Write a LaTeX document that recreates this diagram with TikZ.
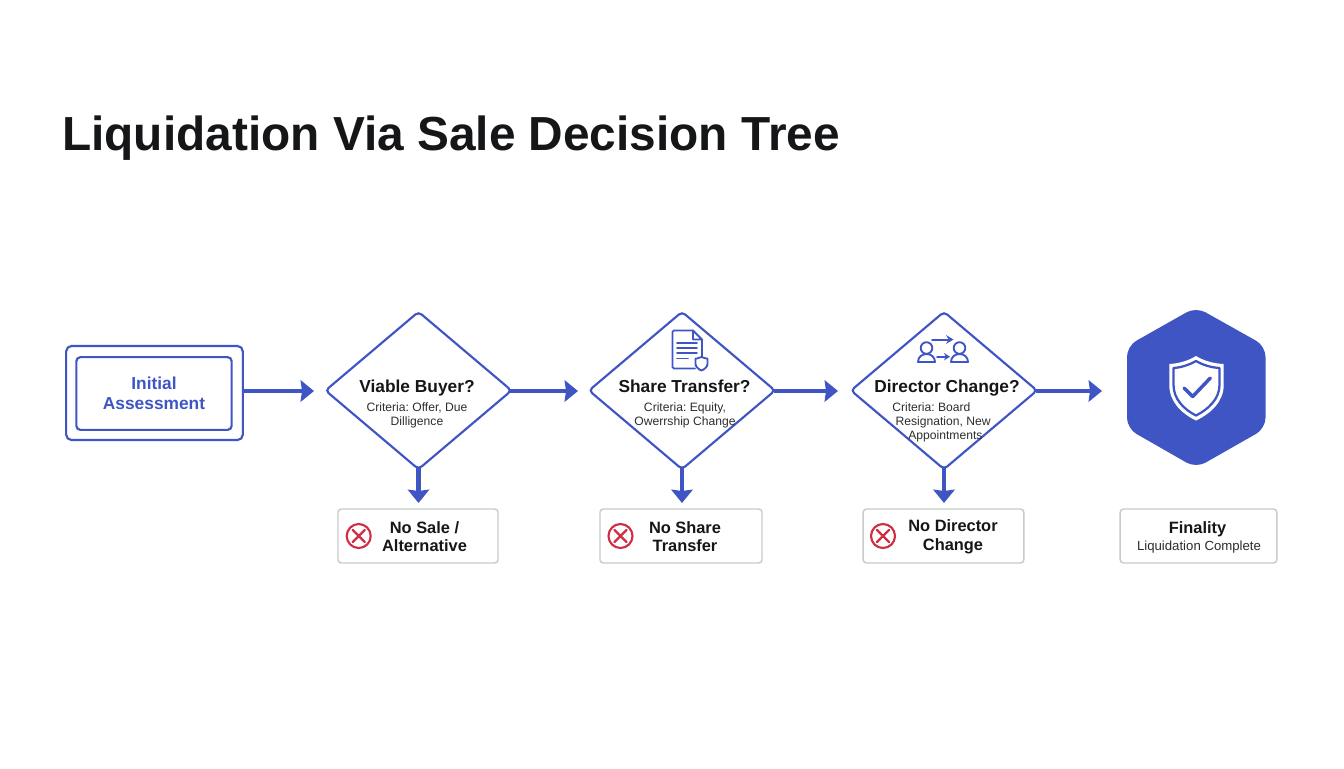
\documentclass[tikz,border=0pt]{standalone}
\usepackage{fontspec}
\setmainfont{Liberation Sans}
\usetikzlibrary{arrows.meta,shapes.geometric,calc}
\definecolor{brand}{HTML}{3F55C4}
\definecolor{ink}{HTML}{141618}
\definecolor{greyb}{HTML}{C9CBCC}
\definecolor{redx}{HTML}{CF2E45}
\newcommand{\fs}[1]{\fontsize{#1}{#1}\selectfont\frenchspacing}
\tikzset{
  x=0.75pt,y=-0.75pt,
  flow/.style={draw=brand,line width=3.4pt,-{Stealth[length=10pt,width=16pt,inset=1pt]},shorten <=-0.8pt},
  dia/.style={diamond,draw=brand,line width=1.6pt,fill=white,inner sep=0pt,outer sep=0pt,aspect=1.18,minimum width=139.5pt,minimum height=118pt,rounded corners=3pt},
  qtxt/.style={font=\fs{13}\bfseries,text=ink,inner sep=0pt,anchor=base},
  crit/.style={font=\fs{9.1},text=ink!90,align=center,inner sep=0pt},
  endbox/.style={draw=greyb,line width=1.1pt,fill=white,rounded corners=2.5pt,inner sep=0pt},
  endtxt/.style={font=\fs{12.3}\bfseries,text=ink,align=center,inner sep=0pt},
  xmark/.style={draw=redx,line width=1.6pt,circle,minimum size=18pt,inner sep=0pt,
    path picture={\draw[redx,line width=1.7pt,line cap=round] ($(path picture bounding box.center)+(-6,-6)$) -- ($(path picture bounding box.center)+(6,6)$) ($(path picture bounding box.center)+(6,-6)$) -- ($(path picture bounding box.center)+(-6,6)$);}},
  icon/.style={draw=brand,line width=1.4pt,line join=round,line cap=round},
}
\begin{document}
\begin{tikzpicture}
\useasboundingbox (0,0) rectangle (1344,768);
\fill[white] (0,0) rectangle (1344,768);
% title
\node[anchor=base west,inner sep=0pt,font=\fs{35.85}\bfseries,text=ink] (title) at (62,150) {Liquidation Via Sale Decision Tree};
% start
\node[draw=brand,line width=1.6pt,rounded corners=4pt,minimum width=132.5pt,minimum height=70.5pt,inner sep=0pt,outer sep=0pt] (startouter) at (154.5,393) {};
\node[draw=brand,line width=1.6pt,rounded corners=3pt,minimum width=116.5pt,minimum height=54.5pt,inner sep=0pt,align=center,text=brand,font=\fs{13}\bfseries] (start) at (154,393.5) {Initial\\[1.7pt]Assessment};
% diamonds
\node[dia] (d1) at (418.5,390.5) {};
\node[dia] (d2) at (682,390.5) {};
\node[dia] (d3) at (944,390.5) {};
\node[qtxt] (q1) at (417,392.5) {Viable Buyer?};
\node[qtxt] (q2) at (684.5,392.5) {Share Transfer?};
\node[qtxt] (q3) at (947,392.5) {Director Change?};
\node[crit] (c1) at (417,415.5) {Criteria: Offer, Due\\[1.3pt]Dilligence};
\node[crit] (c2) at (685,415.5) {Criteria: Equity,\\[1.3pt]Owerrship Change};
\node[crit,align=left,anchor=west] (c3) at (892,422.5) {Criteria: Board\\[1.3pt]\hspace*{2.5pt}Resignation, New\\[1.3pt]\hspace*{12pt}Appointments};
% document icon
\draw[icon,rounded corners=1pt] (693,330.5) -- (672.5,330.5) -- (672.5,368.5) -- (695,368.5);
\draw[icon] (702,358) -- (702,339.5) -- (693,330.5) -- (693,339.5) -- (702,339.5);
\foreach \yy/\xx in {342.7/697,348/697,353/697,358.5/688}
  \draw[icon] (677,\yy) -- (\xx,\yy);
\draw[icon,fill=white] (701.5,357) -- (706,358.5) -- (707.5,358.5) -- (707.5,364) .. controls (707.5,367) and (704,369.5) .. (701.5,370.5) .. controls (699,369.5) and (695.5,367) .. (695.5,364) -- (695.5,358.5) -- (697,358.5) -- cycle;
% people icon
\draw[icon] (926.5,348) circle (5.8);
\draw[icon] (918,362) -- (935,362) .. controls (935,357) and (931,354) .. (926.5,354) .. controls (922,354) and (918,357) .. (918,362) -- cycle;
\draw[icon] (959.5,348) circle (5.8);
\draw[icon] (951,362) -- (968,362) .. controls (968,357) and (964,354) .. (959.5,354) .. controls (955,354) and (951,357) .. (951,362) -- cycle;
\draw[icon,line width=1.5pt,-{Stealth[length=5.5pt,width=6.5pt]}] (932,339.5) -- (953.5,339.5);
\draw[icon,line width=1.2pt,-{Stealth[length=4.5pt,width=5.5pt]}] (937,356.7) -- (950,356.7);
% end boxes
\node[endbox,minimum width=120pt,minimum height=40.5pt] (b1) at (418,536) {};
\node[endbox,minimum width=121.5pt,minimum height=40.5pt] (b2) at (681,536) {};
\node[endbox,minimum width=120.5pt,minimum height=40.5pt] (b3) at (943.5,536) {};
\node[endbox,minimum width=117.5pt,minimum height=40.5pt] (b4) at (1198.5,536) {};
\node[xmark] (x1) at (358.7,536) {};
\node[xmark] (x2) at (620.5,536) {};
\node[xmark] (x3) at (883,536) {};
\node[endtxt] (t1) at (424.5,536.5) {No Sale /\\[1.7pt]Alternative};
\node[endtxt] (t2) at (685,536.5) {No Share\\[1.7pt]Transfer};
\node[endtxt] (t3) at (953,536.5) {No Director\\[1.7pt]Change};
\node[endtxt] (t4a) at (1197.5,529) {Finality};
\node[crit,font=\fs{9.9},anchor=center] (t4b) at (1199,547) {Liquidation Complete};
% hexagon
\fill[brand,rounded corners=8pt] (1196,307) -- (1265.5,346) -- (1265.5,428.5) -- (1196,468) -- (1127,428.5) -- (1127,346) -- cycle;
\node[inner sep=0pt,minimum size=1pt] (hex) at (1196,388) {};
% shield
\fill[white,line join=round] (1196,356) .. controls (1204,361) and (1214,363.5) .. (1223.7,364) -- (1223.7,385) .. controls (1223.7,402) and (1210,414) .. (1196,420.5) .. controls (1182,414) and (1169.3,402) .. (1169.3,385) -- (1169.3,364) .. controls (1178,363.5) and (1188,361) .. (1196,356) -- cycle;
\draw[brand,line width=1.7pt,line join=round] (1196,361) .. controls (1203,365) and (1211,367.5) .. (1219.5,368) -- (1219.5,385) .. controls (1219.5,399) and (1208,409.5) .. (1196,415.5) .. controls (1184,409.5) and (1173.5,399) .. (1173.5,385) -- (1173.5,368) .. controls (1181,367.5) and (1189,365) .. (1196,361) -- cycle;
\draw[brand,line width=2.6pt,line cap=round,line join=round] (1184,388) -- (1192.7,396.5) -- (1210.3,378);
% connectors
\coordinate (e1) at (314,391);
\coordinate (e2) at (578,391);
\coordinate (e3) at (838,391);
\coordinate (e4) at (1102,391);
\draw[flow] (startouter.east |- e1) -- (e1);
\draw[flow] (d1.east |- e2) -- (e2);
\draw[flow] (d2.east |- e3) -- (e3);
\draw[flow] (d3.east |- e4) -- (e4);
\coordinate (f1) at (418.5,503);
\coordinate (f2) at (682,503);
\coordinate (f3) at (944,503);
\draw[flow] (d1.south) -- (f1);
\draw[flow] (d2.south) -- (f2);
\draw[flow] (d3.south) -- (f3);
\end{tikzpicture}
\end{document}
